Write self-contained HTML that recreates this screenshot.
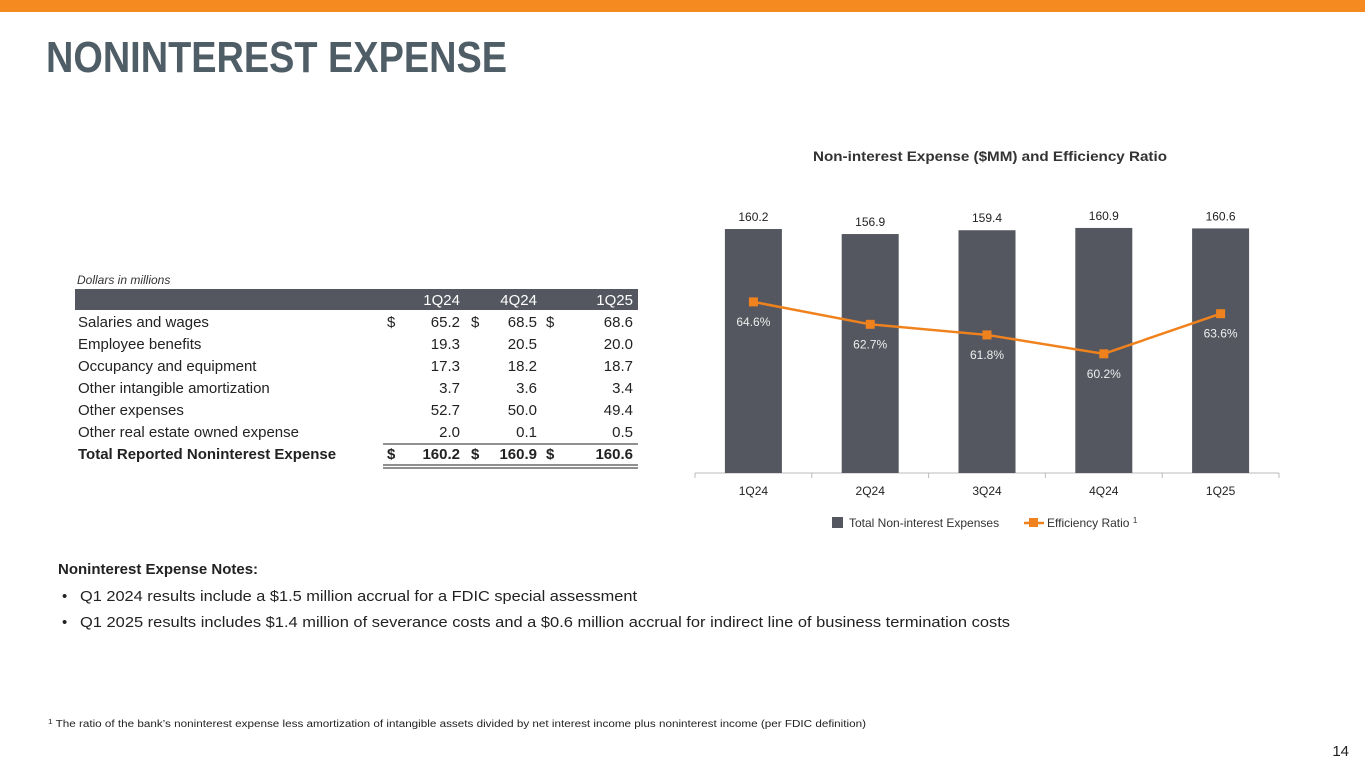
<!DOCTYPE html>
<html><head><meta charset="utf-8"><style>
html,body{margin:0;padding:0;background:#fff;width:1365px;height:768px;overflow:hidden}
svg{display:block;font-family:"Liberation Sans",sans-serif}
</style></head><body>
<svg id="pg" width="1365" height="768" viewBox="0 0 1365 768">
<rect x="0" y="0" width="1365" height="12" fill="#f58a20"/>
<text x="46" y="72" font-size="44" font-weight="bold" fill="#4f5e66" textLength="461" lengthAdjust="spacingAndGlyphs">NONINTEREST EXPENSE</text>

<g font-size="15" fill="#222">
<text x="77" y="284" font-size="12" font-style="italic" fill="#333">Dollars in millions</text>
<rect x="75" y="289" width="563" height="21" fill="#54575f"/>
<g fill="#fff" font-size="15" text-anchor="end">
<text x="460" y="305">1Q24</text>
<text x="537" y="305">4Q24</text>
<text x="633" y="305">1Q25</text>
</g>
<g id="rows"></g>
<line x1="383" y1="444" x2="638" y2="444" stroke="#222" stroke-width="1"/>
<line x1="383" y1="465" x2="638" y2="465" stroke="#222" stroke-width="1"/>
<line x1="383" y1="468" x2="638" y2="468" stroke="#222" stroke-width="1"/>
</g>

<text x="990" y="161" font-size="14" font-weight="bold" fill="#333" text-anchor="middle" textLength="354" lengthAdjust="spacingAndGlyphs">Non-interest Expense ($MM) and Efficiency Ratio</text>
<g id="chart"></g>

<g font-size="12" fill="#333">
<rect x="832" y="517" width="11" height="11" fill="#54575f"/>
<text x="849" y="527">Total Non-interest Expenses</text>
<line x1="1024" y1="523" x2="1044" y2="523" stroke="#f0821e" stroke-width="2.5"/>
<rect x="1029" y="518" width="9" height="9" fill="#f0821e"/>
<text x="1047" y="527">Efficiency Ratio <tspan font-size="8" dy="-4">1</tspan></text>
</g>

<g font-size="15" fill="#222">
<text x="58" y="574" font-weight="bold">Noninterest Expense Notes:</text>
<text x="62" y="601">•</text>
<text x="80" y="601" textLength="557" lengthAdjust="spacingAndGlyphs">Q1 2024 results include a $1.5 million accrual for a FDIC special assessment</text>
<text x="62" y="627">•</text>
<text x="80" y="627" textLength="930" lengthAdjust="spacingAndGlyphs">Q1 2025 results includes $1.4 million of severance costs and a $0.6 million accrual for indirect line of business termination costs</text>
</g>
<text x="48" y="727" font-size="10" fill="#222" textLength="818" lengthAdjust="spacingAndGlyphs"><tspan font-size="7" dy="-3">1</tspan><tspan dy="3"> The ratio of the bank’s noninterest expense less amortization of intangible assets divided by net interest income plus noninterest income (per FDIC definition)</tspan></text>
<text x="1349" y="756" font-size="15" fill="#222" text-anchor="end">14</text>
</svg>
<script>
const rowLabels=["Salaries and wages","Employee benefits","Occupancy and equipment","Other intangible amortization","Other expenses","Other real estate owned expense","Total Reported Noninterest Expense"];
const col1Q24=["65.2","19.3","17.3","3.7","52.7","2.0","160.2"];
const col4Q24=["68.5","20.5","18.2","3.6","50.0","0.1","160.9"];
const col1Q25=["68.6","20.0","18.7","3.4","49.4","0.5","160.6"];

const categories=["1Q24","2Q24","3Q24","4Q24","1Q25"];
const expenses=[160.2,156.9,159.4,160.9,160.6];
const efficiency=[64.6,62.7,61.8,60.2,63.6];

const NS="http://www.w3.org/2000/svg";
function mk(tag,attrs,parent,txt){const e=document.createElementNS(NS,tag);for(const k in attrs)e.setAttribute(k,attrs[k]);if(txt!==undefined)e.textContent=txt;parent.appendChild(e);return e;}

const rows=document.getElementById('rows');
rowLabels.forEach((lab,i)=>{
  const y=327+i*22, last=i===rowLabels.length-1;
  const fw=last?'bold':'normal';
  const t=mk('text',{x:78,y:y,'font-weight':fw},rows,lab);
  
  
  [[col1Q24,460,387],[col4Q24,537,471],[col1Q25,633,546]].forEach(([col,x,dx])=>{
    if(i===0||last){const d=mk('text',{x:dx,y:y,'font-weight':fw},rows,'$');
      
      }
    const v=mk('text',{x:x,y:y,'text-anchor':'end','font-weight':fw},rows,col[i]);
    
    
  });
});

const chart=document.getElementById('chart');
const x0=695,x1=1279,base=473,bw=57;
const step=(x1-x0)/categories.length;
const xc=i=>x0+step*(i+0.5);
const yBar=v=>base-v*1.523;
const yLine=v=>base-(v-50.1)*11.8;

const ax=mk('line',{x1:x0,y1:base,x2:x1,y2:base,stroke:'#bbb','stroke-width':1},chart);


for(let i=0;i<=categories.length;i++){
  const tk=mk('line',{x1:x0+step*i,y1:base,x2:x0+step*i,y2:base+5,stroke:'#bbb'},chart);
  
  
}
categories.forEach((c,i)=>{
  const r=mk('rect',{x:xc(i)-bw/2,y:yBar(expenses[i]),width:bw,height:base-yBar(expenses[i]),fill:'#54575f'},chart);
  
  
  const vl=mk('text',{x:xc(i),y:yBar(expenses[i])-8,'font-size':12,fill:'#222','text-anchor':'middle'},chart,expenses[i].toFixed(1));
  
  
  const cl=mk('text',{x:xc(i),y:base+22,'font-size':12,fill:'#222','text-anchor':'middle'},chart,c);
  
  
});
const pts=efficiency.map((v,i)=>xc(i)+','+yLine(v)).join(' ');
const pl=mk('polyline',{points:pts,fill:'none',stroke:'#f0821e','stroke-width':2.5},chart);


efficiency.forEach((v,i)=>{
  const m=mk('rect',{x:xc(i)-4.5,y:yLine(v)-4.5,width:9,height:9,fill:'#f0821e'},chart);
  
  
  const l=mk('text',{x:xc(i),y:yLine(v)+24,'font-size':12,fill:'#eee','text-anchor':'middle'},chart,v.toFixed(1)+'%');
  
  
});
</script>
</body></html>
